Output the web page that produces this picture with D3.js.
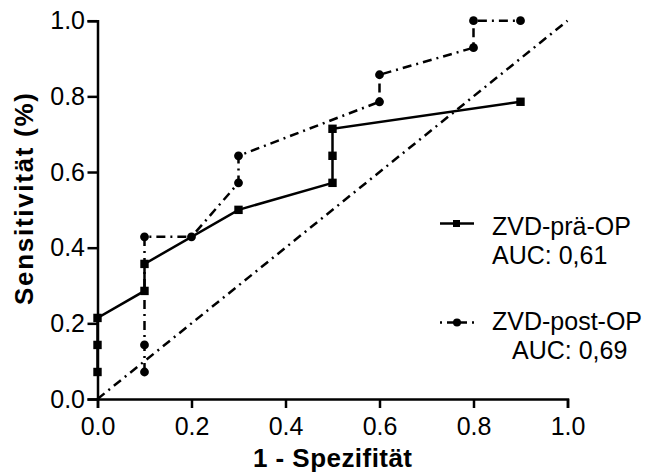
<!DOCTYPE html>
<html><head><meta charset="utf-8">
<script src="https://cdn.jsdelivr.net/npm/d3@7"></script>
<style>body{margin:0;background:#fff}svg{display:block}text{font-family:"Liberation Sans",Arial,sans-serif;fill:#000}</style>
</head><body>
<svg id="c" width="646" height="475"></svg>
<script>
// Data
const preFPR  = [0, 0, 0, 0.1, 0.1, 0.3, 0.5, 0.5, 0.5, 0.9];
const preTPR  = [0.0714, 0.1429, 0.2143, 0.2857, 0.3571, 0.5, 0.5714, 0.6429, 0.7143, 0.7857];
const postFPR = [0.1, 0.1, 0.1, 0.2, 0.3, 0.3, 0.6, 0.6, 0.8, 0.8, 0.9];
const postTPR = [0.0714, 0.1429, 0.4286, 0.4286, 0.5714, 0.6429, 0.7857, 0.8571, 0.9286, 1.0, 1.0];
const refFPR  = [0, 1];
const refTPR  = [0, 1];
const xTicks = [0, 0.2, 0.4, 0.6, 0.8, 1.0];
const yTicks = [0, 0.2, 0.4, 0.6, 0.8, 1.0];
const seriesNames = ["ZVD-prä-OP", "ZVD-post-OP"];
const aucLabels = ["AUC: 0,61", "AUC: 0,69"];
const xTitle = "1 - Spezifität";
const yTitle = "Sensitivität (%)";

const svg = d3.select("#c");
const x = d3.scaleLinear().domain([0, 1]).range([97.5, 567.5]);
const y = d3.scaleLinear().domain([0, 1]).range([399, 20.7]);
const dash = "9,5,2,5";

// axes
const xa = svg.append("g").attr("transform", "translate(0,399)")
  .call(d3.axisBottom(x).tickValues(xTicks).tickFormat(d3.format(".1f")).tickSizeOuter(0).tickSize(9).tickPadding(9));
const ya = svg.append("g").attr("transform", "translate(97.5,0)")
  .call(d3.axisLeft(y).tickValues(yTicks).tickFormat(d3.format(".1f")).tickSizeOuter(0).tickSize(10).tickPadding(2.5));
[xa, ya].forEach(g => {
  g.select(".domain").attr("stroke", "#000").attr("stroke-width", 2.5);
  g.selectAll(".tick line").attr("stroke", "#000").attr("stroke-width", 2.5);
  g.selectAll(".tick text").attr("font-size", 25).attr("font-family", "Liberation Sans, Arial, sans-serif").attr("fill", "#000");
});

// titles
svg.append("text").attr("x", 332.5).attr("y", 467).attr("text-anchor", "middle")
  .attr("font-size", 26).attr("font-weight", "bold")
  .attr("textLength", 159).attr("lengthAdjust", "spacing").text(xTitle);
svg.append("text").attr("transform", "translate(33,199) rotate(-90)").attr("text-anchor", "middle")
  .attr("font-size", 26).attr("font-weight", "bold")
  .attr("textLength", 212).attr("lengthAdjust", "spacing").text(yTitle);

const line = d3.line().x(d => x(d[0])).y(d => y(d[1]));
const ref = refFPR.map((v, i) => [v, refTPR[i]]);
const pre = preFPR.map((v, i) => [v, preTPR[i]]);
const post = postFPR.map((v, i) => [v, postTPR[i]]);

svg.append("path").datum(ref).attr("d", line).attr("fill", "none").attr("stroke", "#000")
  .attr("stroke-width", 2.5).attr("stroke-dasharray", dash);
svg.append("path").datum(pre).attr("d", line).attr("fill", "none").attr("stroke", "#000")
  .attr("stroke-width", 2.5);
svg.append("path").datum(post).attr("d", line).attr("fill", "none").attr("stroke", "#000")
  .attr("stroke-width", 2.5).attr("stroke-dasharray", dash);

svg.selectAll(".sq").data(pre).enter().append("rect")
  .attr("x", d => x(d[0]) - 4.2).attr("y", d => y(d[1]) - 4.2).attr("width", 8.4).attr("height", 8.4).attr("fill", "#000");
svg.selectAll(".ci").data(post).enter().append("circle")
  .attr("cx", d => x(d[0])).attr("cy", d => y(d[1])).attr("r", 4.4).attr("fill", "#000");

// legend
const lg = svg.append("g");
lg.append("line").attr("x1", 440).attr("x2", 474).attr("y1", 223.5).attr("y2", 223.5)
  .attr("stroke", "#000").attr("stroke-width", 2.5);
lg.append("rect").attr("x", 453).attr("y", 220).attr("width", 7).attr("height", 7).attr("fill", "#000");
lg.append("text").attr("x", 492).attr("y", 235).attr("font-size", 25).text(seriesNames[0]);
lg.append("text").attr("x", 492).attr("y", 263.5).attr("font-size", 25).text(aucLabels[0]);

lg.append("line").attr("x1", 440).attr("x2", 474).attr("y1", 322.5).attr("y2", 322.5)
  .attr("stroke", "#000").attr("stroke-width", 2.5).attr("stroke-dasharray", "2,5,20,5");
lg.append("circle").attr("cx", 457).attr("cy", 322.5).attr("r", 4).attr("fill", "#000");
lg.append("text").attr("x", 492).attr("y", 330).attr("font-size", 25).text(seriesNames[1]);
lg.append("text").attr("x", 512).attr("y", 358.5).attr("font-size", 25).text(aucLabels[1]);
</script>
</body></html>
